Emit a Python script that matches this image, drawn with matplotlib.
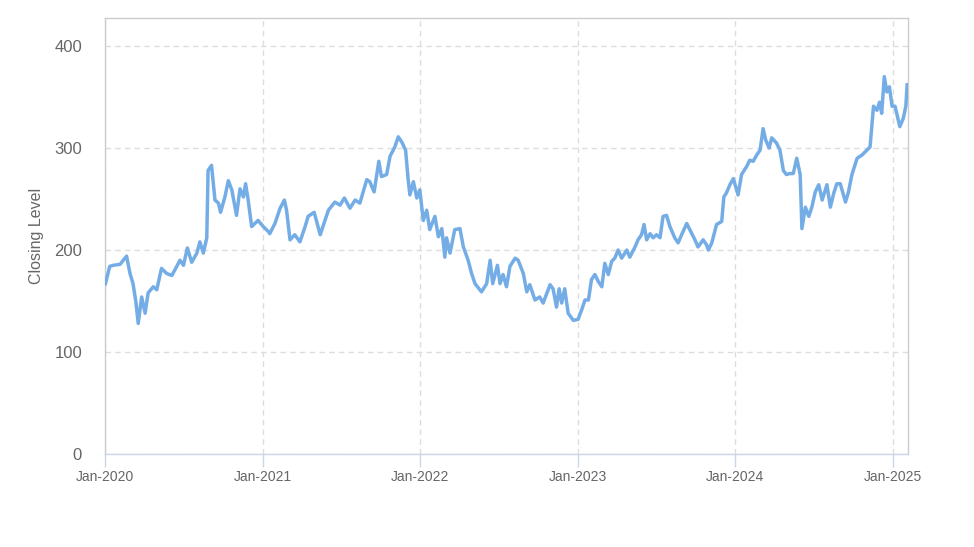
import matplotlib
matplotlib.use("Agg")
import matplotlib.pyplot as plt
import pandas as pd

plt.rcParams['font.family'] = ['Liberation Sans', 'DejaVu Sans']

dates = [
    "2020-01-02", "2020-01-12", "2020-01-20", "2020-02-05", "2020-02-20", "2020-02-28",
    "2020-03-06", "2020-03-13", "2020-03-18", "2020-03-26", "2020-04-03", "2020-04-10",
    "2020-04-22", "2020-04-30", "2020-05-11", "2020-05-23", "2020-06-04", "2020-06-23",
    "2020-07-01", "2020-07-10", "2020-07-20", "2020-08-01", "2020-08-08", "2020-08-16",
    "2020-08-24", "2020-08-27", "2020-09-04", "2020-09-12", "2020-09-20", "2020-09-25",
    "2020-10-05", "2020-10-13", "2020-10-21", "2020-11-01", "2020-11-09", "2020-11-17",
    "2020-11-22", "2020-11-28", "2020-12-06", "2020-12-21", "2021-01-02", "2021-01-14",
    "2021-01-17", "2021-01-29", "2021-02-10", "2021-02-20", "2021-02-25", "2021-03-05",
    "2021-03-16", "2021-03-28", "2021-04-09", "2021-04-16", "2021-04-30", "2021-05-14",
    "2021-05-25", "2021-06-02", "2021-06-17", "2021-06-29", "2021-07-09", "2021-07-22",
    "2021-08-03", "2021-08-14", "2021-08-30", "2021-09-06", "2021-09-16", "2021-09-27",
    "2021-10-03", "2021-10-15", "2021-10-23", "2021-11-03", "2021-11-11", "2021-11-19",
    "2021-11-28", "2021-12-04", "2021-12-08", "2021-12-16", "2021-12-24", "2021-12-31",
    "2022-01-08", "2022-01-16", "2022-01-23", "2022-02-04", "2022-02-12", "2022-02-20",
    "2022-02-27", "2022-03-03", "2022-03-11", "2022-03-22", "2022-04-03", "2022-04-11",
    "2022-04-22", "2022-04-30", "2022-05-08", "2022-05-23", "2022-06-04", "2022-06-12",
    "2022-06-18", "2022-06-29", "2022-07-05", "2022-07-12", "2022-07-20", "2022-07-28",
    "2022-08-09", "2022-08-16", "2022-08-28", "2022-09-05", "2022-09-12", "2022-09-24",
    "2022-10-05", "2022-10-13", "2022-10-29", "2022-11-05", "2022-11-13", "2022-11-19",
    "2022-11-25", "2022-12-02", "2022-12-10", "2022-12-22", "2023-01-02", "2023-01-10",
    "2023-01-18", "2023-01-26", "2023-02-02", "2023-02-10", "2023-02-18", "2023-02-26",
    "2023-03-05", "2023-03-13", "2023-03-21", "2023-03-28", "2023-04-05", "2023-04-13",
    "2023-04-25", "2023-05-02", "2023-05-14", "2023-05-21", "2023-05-29", "2023-06-04",
    "2023-06-10", "2023-06-18", "2023-06-25", "2023-07-03", "2023-07-11", "2023-07-18",
    "2023-07-26", "2023-08-03", "2023-08-14", "2023-08-22", "2023-08-30", "2023-09-11",
    "2023-09-18", "2023-09-30", "2023-10-07", "2023-10-19", "2023-10-27", "2023-10-31",
    "2023-11-08", "2023-11-19", "2023-12-01", "2023-12-06", "2023-12-12", "2023-12-20",
    "2023-12-28", "2024-01-08", "2024-01-16", "2024-01-28", "2024-02-04", "2024-02-12",
    "2024-02-20", "2024-02-28", "2024-03-06", "2024-03-12", "2024-03-20", "2024-03-26",
    "2024-04-06", "2024-04-14", "2024-04-22", "2024-04-29", "2024-05-07", "2024-05-15",
    "2024-05-23", "2024-05-31", "2024-06-04", "2024-06-12", "2024-06-20", "2024-06-27",
    "2024-07-05", "2024-07-13", "2024-07-21", "2024-08-01", "2024-08-09", "2024-08-17",
    "2024-08-24", "2024-09-01", "2024-09-13", "2024-09-20", "2024-09-28", "2024-10-10",
    "2024-10-21", "2024-11-02", "2024-11-09", "2024-11-17", "2024-11-25", "2024-12-01",
    "2024-12-06", "2024-12-12", "2024-12-18", "2024-12-24", "2024-12-30", "2025-01-06",
    "2025-01-17", "2025-01-25", "2025-01-31", "2025-02-03",
]

closing = [
    167, 184, 185, 186, 194, 177,
    167, 148, 128, 154, 138, 158,
    164, 161, 182, 177, 175, 190,
    185, 202, 188, 197, 208, 197,
    212, 278, 283, 249, 246, 237,
    252, 268, 259, 234, 260, 252,
    265, 249, 223, 229, 223, 218,
    216, 226, 241, 249, 239, 210,
    215, 208, 223, 233, 237, 215,
    229, 239, 247, 244, 251, 241,
    249, 246, 269, 267, 257, 287,
    272, 274, 292, 301, 311, 306,
    298, 269, 254, 267, 251, 259,
    229, 239, 220, 233, 213, 221,
    193, 212, 197, 220, 221, 203,
    190, 177, 167, 159, 167, 190,
    167, 185, 167, 176, 164, 184,
    192, 190, 177, 159, 166, 151,
    154, 148, 166, 162, 144, 162,
    148, 162, 138, 131, 132, 141,
    151, 151, 171, 176, 169, 164,
    187, 176, 189, 192, 200, 192,
    200, 193, 203, 210, 215, 225,
    210, 216, 212, 215, 212, 233,
    234, 223, 212, 207, 215, 226,
    220, 210, 203, 210, 205, 200,
    207, 225, 228, 252, 256, 264,
    270, 254, 274, 282, 288, 287,
    293, 298, 319, 308, 300, 310,
    305, 298, 278, 274, 275, 275,
    290, 274, 221, 242, 233, 242,
    257, 264, 249, 264, 242, 256,
    265, 265, 247, 257, 274, 290,
    293, 298, 301, 341, 337, 345,
    334, 370, 355, 360, 341, 341,
    321, 329, 341, 362,
]

tick_dates = ["2020-01-01", "2021-01-01", "2022-01-01", "2023-01-01", "2024-01-01", "2025-01-01"]
tick_labels = ["Jan-2020", "Jan-2021", "Jan-2022", "Jan-2023", "Jan-2024", "Jan-2025"]
y_ticks = [0, 100, 200, 300, 400]

x = pd.to_datetime(dates)
xt = pd.to_datetime(tick_dates)

fig = plt.figure(figsize=(9.74, 5.47), dpi=100)
ax = fig.add_axes([105 / 974, 93 / 547, (908 - 105) / 974, (454 - 18) / 547])

ax.plot(x, closing, color="#74ade6", linewidth=2.5, solid_joinstyle="round", zorder=3)

ax.set_xlim(pd.Timestamp("2020-01-01"), pd.Timestamp("2025-02-05"))
ax.set_ylim(0, 427.5)

ax.set_xticks(xt)
ax.set_xticklabels(tick_labels)
ax.set_yticks(y_ticks)

ax.grid(True, color="#dddddd", linestyle=(0, (4, 3)), linewidth=1, zorder=0)

for side in ["top", "right", "left"]:
    ax.spines[side].set_color("#cccccc")
    ax.spines[side].set_linewidth(1)
ax.spines["bottom"].set_color("#ccd6eb")
ax.spines["bottom"].set_linewidth(1)

ax.tick_params(axis="x", colors="#ccd6eb", length=9, width=1, labelcolor="#666666",
               labelsize=10, pad=2.5)
ax.tick_params(axis="y", length=0, labelcolor="#666666", labelsize=12, pad=16.5)

ax.set_ylabel("Closing Level", color="#666666", fontsize=11.5, labelpad=7)

fig.savefig("out.png", dpi=100, facecolor="white")
